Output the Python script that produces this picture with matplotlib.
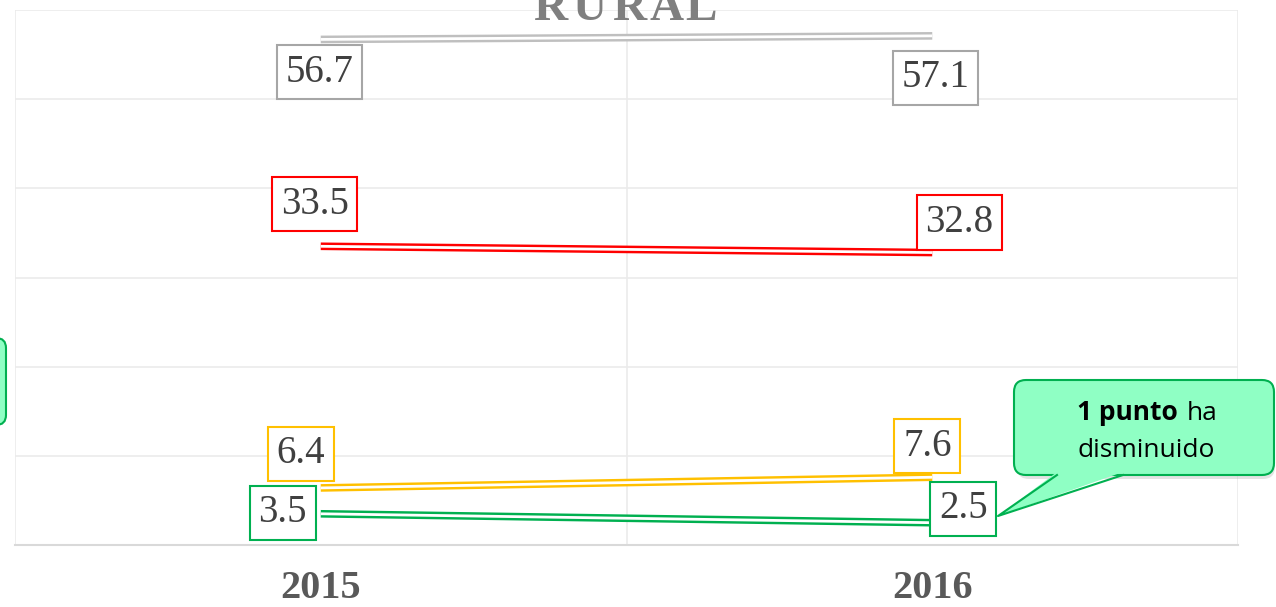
import matplotlib
matplotlib.use('Agg')
import matplotlib.pyplot as plt
import matplotlib.patheffects as pe
from matplotlib.patches import FancyBboxPatch, Polygon

years = ['2015', '2016']
grey_vals = [56.7, 57.1]
red_vals = [33.5, 32.8]
gold_vals = [6.4, 7.6]
green_vals = [3.5, 2.5]

W, H = 1276, 607
fig = plt.figure(figsize=(W / 100, H / 100), dpi=100)
ax = fig.add_axes([15 / W, 62 / H, 1223 / W, 535 / H])

ax.set_xlim(-0.5, 1.5)
ax.set_ylim(0, 60)
ax.set_yticks(range(0, 61, 10))
ax.set_yticklabels([])
ax.set_xticks([0, 1])
ax.set_xticklabels(years, fontsize=29, fontweight='bold', family='Liberation Serif', color='#595959')
ax.set_xticks([-0.5, 0.5, 1.5], minor=True)
ax.tick_params(which='both', length=0)
ax.tick_params(axis='x', pad=18)
ax.grid(axis='y', color='#EBEBEB', lw=1.2)
ax.grid(axis='x', which='minor', color='#EBEBEB', lw=1.2)
for s in ['left', 'right', 'top']:
    ax.spines[s].set_visible(False)
ax.spines['bottom'].set_color('#D9D9D9')
ax.spines['bottom'].set_linewidth(1.5)

# series: values, line colour, label edge, label offsets (pixels)
series = [
    (grey_vals, '#BFBFBF', '#A6A6A6', [(-1, -33), (3, -42)]),
    (red_vals, '#FF0000', '#FF0000', [(-6, 42), (27, 30)]),
    (gold_vals, '#FFC000', '#FFC000', [(-20, 34), (-5, 31)]),
    (green_vals, '#00B050', '#00B050', [(-38, 1), (31, 14)]),
]
x = [0, 1]
for vals, col, ecol, offs in series:
    ax.plot(x, vals, color='white', lw=2, solid_capstyle='butt',
            path_effects=[pe.Stroke(linewidth=5.5, foreground=col, capstyle='butt'), pe.Normal()])
    for xi, v, (dx, dy) in zip(x, vals, offs):
        ax.annotate(f'{v}', (xi, v), xytext=(dx, dy), textcoords='offset pixels',
                    ha='center', va='center', fontsize=28, family='Liberation Serif', color='#404040',
                    bbox=dict(boxstyle='square,pad=0.22', fc='white', ec=ecol, lw=1.5), zorder=5)

# overlay in pixel coords for title and callouts
ov = fig.add_axes([0, 0, 1, 1])
ov.set_xlim(0, W)
ov.set_ylim(H, 0)
ov.axis('off')
ov.patch.set_alpha(0)

for ch, cx in zip('RURAL', [550, 590, 629, 667, 701]):
    ov.text(cx, 20, ch, ha='center', va='baseline', fontsize=34, fontweight='bold',
            family='Liberation Serif', color='#7F7F7F')

fill = '#8FFFC4'
edge = '#00B050'

# left callout (mostly off-canvas)
ov.add_patch(FancyBboxPatch((-60, 338), 66, 87, boxstyle='round,pad=0,rounding_size=10',
                            fc=fill, ec=edge, lw=1.5, clip_on=False))

# right callout
ov.add_patch(FancyBboxPatch((1017, 384), 258, 95, boxstyle='round,pad=0,rounding_size=12',
                            fc='#BBBBBB', ec='none', alpha=0.4, clip_on=False))
ov.add_patch(FancyBboxPatch((1014, 380), 260, 95, boxstyle='round,pad=0,rounding_size=12',
                            fc=fill, ec=edge, lw=1.5, clip_on=False))
ov.add_patch(Polygon([(1057, 472), (998, 516), (1123, 472)], closed=True, fc=fill, ec='none'))
ov.plot([1057, 998, 1123], [475, 516, 475], color=edge, lw=1.5)

ov.text(1178, 420, '1 punto', ha='right', va='baseline', fontsize=19, fontweight='bold',
        family='Open Sans', color='black')
ov.text(1187, 420, 'ha', ha='left', va='baseline', fontsize=19, family='Open Sans', color='black')
ov.text(1146, 457, 'disminuido', ha='center', va='baseline', fontsize=19, family='Open Sans', color='black')

fig.savefig('out.png', dpi=100)
